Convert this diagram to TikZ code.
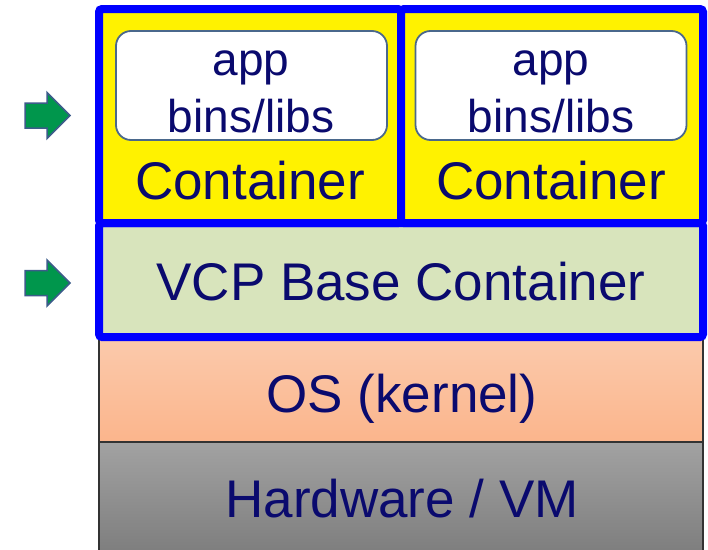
\documentclass[tikz,border=0pt]{standalone}
\usepackage{fontspec}
\setmainfont{Liberation Sans}

\definecolor{navy}{RGB}{10,10,110}
\definecolor{vcpblue}{RGB}{0,0,255}
\definecolor{boxedge}{RGB}{74,104,140}
\definecolor{basegreen}{RGB}{216,228,188}
\definecolor{ostop}{RGB}{251,202,172}
\definecolor{osbot}{RGB}{251,181,140}
\definecolor{hwtop}{RGB}{162,162,162}
\definecolor{hwbot}{RGB}{126,126,126}
\definecolor{arrowgreen}{RGB}{0,150,76}
\definecolor{arrowedge}{RGB}{60,92,138}

\begin{document}
\begin{tikzpicture}[x=1pt, y=-1pt,
	layer/.style={rectangle, draw=black!80, line width=1.5pt, inner sep=0pt, minimum width=604pt},
	frame/.style={rectangle, draw=vcpblue, line width=8pt, rounded corners=3pt, inner sep=0pt},
	appbox/.style={rectangle, draw=boxedge, line width=1.8pt, fill=white, rounded corners=15pt, inner sep=0pt, minimum width=271pt, minimum height=109pt},
	big/.style={text=navy, font=\fontsize{53}{60}\selectfont, anchor=base, inner sep=0pt},
	small/.style={text=navy, font=\fontsize{46}{52}\selectfont, anchor=base, inner sep=0pt}]

	\useasboundingbox (0,0) rectangle (708,549);

	% lower layers
	\node (hw) [layer, minimum height=110pt, top color=hwtop, bottom color=hwbot] at (401,497) {};
	\node (os) [layer, minimum height=105pt, top color=ostop, bottom color=osbot] at (401,389.5) {};
	\node[big] (hwtext) at (402,517) {Hardware / VM};
	\node[big] (ostext) at (402,412) {OS (kernel)};

	% base container
	\node (base) [frame, fill=basegreen, minimum width=604pt, minimum height=114pt] at (401,280) {};
	\node[big] (basetext) at (401,300) {VCP Base Container};

	% containers
	\node (cont1) [frame, fill=yellow, minimum width=302pt, minimum height=214pt] at (250,116) {};
	\node (cont2) [frame, fill=yellow, minimum width=302pt, minimum height=214pt] at (552,116) {};

	\node (app1) [appbox] at (251.5,85.5) {};
	\node (app2) [appbox] at (551,85.5) {};

	\node[small] (apptext1) at (251,75) {app};
	\node[small] (libtext1) at (251,132) {bins/libs};
	\node[small] (apptext2) at (551,75) {app};
	\node[small] (libtext2) at (551,132) {bins/libs};

	\node[big] (conttext1) at (250,199) {Container};
	\node[big] (conttext2) at (551,199) {Container};

	% arrows
	\foreach \y in {115.5,283}
		\draw[fill=arrowgreen, draw=arrowedge, line width=1.5pt]
			(25,\y-12.5) -- (47,\y-12.5) -- (47,\y-23) -- (70,\y)
			-- (47,\y+23) -- (47,\y+12.5) -- (25,\y+12.5) -- cycle;

\end{tikzpicture}
\end{document}
